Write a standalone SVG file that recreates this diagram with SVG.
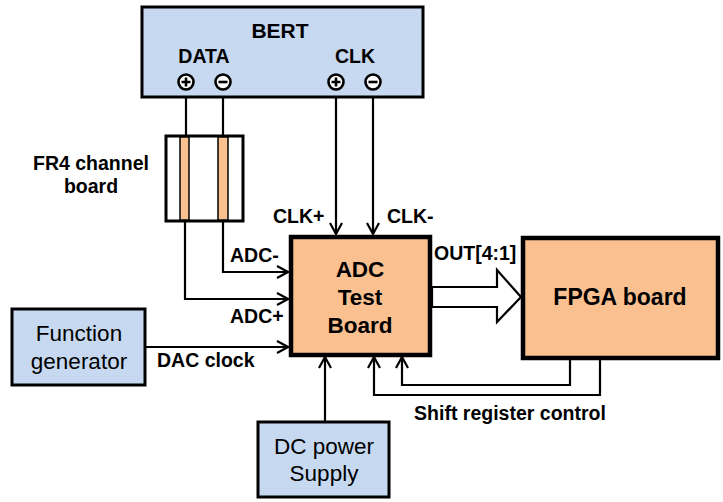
<svg xmlns="http://www.w3.org/2000/svg" width="723" height="502" viewBox="0 0 723 502">
<style>
.blue{fill:#C6D9F0;stroke:#000;stroke-width:3}
.orange{fill:#FAC090;stroke:#000;stroke-width:4.5}
.wire{fill:none;stroke:#000;stroke-width:2.2}
.lbl{font-family:"Liberation Sans",Arial,sans-serif;font-weight:bold;font-size:19.5px;fill:#000}
.big{font-family:"Liberation Sans",Arial,sans-serif;font-weight:bold;font-size:22.5px;fill:#000;text-anchor:middle}
.reg{font-family:"Liberation Sans",Arial,sans-serif;font-size:22.5px;fill:#000;text-anchor:middle}
.term{fill:#fff;stroke:#000;stroke-width:2.6}
</style>
<defs>
<marker id="arr" markerWidth="14" markerHeight="14" refX="12" refY="7" orient="auto" markerUnits="userSpaceOnUse">
<polyline points="1,1 12,7 1,13" fill="none" stroke="#000" stroke-width="2.2"/>
</marker>
</defs>
<rect width="723" height="502" fill="#fff"/>

<g id="connectors">
<path class="wire" d="M186,90 V135"/>
<path class="wire" d="M223,90 V135"/>
<path class="wire" d="M223,221 V272 H288" marker-end="url(#arr)"/>
<path class="wire" d="M185,221 V299 H288" marker-end="url(#arr)"/>
<path class="wire" d="M336,90 V234" marker-end="url(#arr)"/>
<path class="wire" d="M373,90 V234" marker-end="url(#arr)"/>
<path class="wire" d="M145,347 H288" marker-end="url(#arr)"/>
<path class="wire" d="M325,421 V357" marker-end="url(#arr)"/>
<path class="wire" d="M570,358 V385 H402 V357" marker-end="url(#arr)"/>
<path class="wire" d="M600,358 V395 H374 V357" marker-end="url(#arr)"/>
<polygon points="432,287 497,287 497,270 521,297 497,322 497,307 432,307" fill="#fff" stroke="#000" stroke-width="2.2"/>
<text class="lbl" x="230" y="262">ADC-</text>
<text class="lbl" x="230" y="323">ADC+</text>
<text class="lbl" x="157" y="367">DAC clock</text>
<text class="lbl" x="273" y="223">CLK+</text>
<text class="lbl" x="387" y="223">CLK-</text>
<text class="lbl" x="434" y="260">OUT[4:1]</text>
<text class="lbl" x="510" y="420" text-anchor="middle">Shift register control</text>
</g>

<g id="bert">
<rect class="blue" x="142" y="7" width="281" height="90"/>
<text class="big" x="280" y="38" style="font-size:21px">BERT</text>
<text class="lbl" x="204" y="63" text-anchor="middle">DATA</text>
<text class="lbl" x="355" y="63" text-anchor="middle">CLK</text>
<circle class="term" cx="186" cy="82" r="7.5"/>
<path d="M181.5,82 H190.5 M186,77.5 V86.5" stroke="#000" stroke-width="2.6"/>
<circle class="term" cx="223" cy="82" r="7.5"/>
<path d="M218.5,82 H227.5" stroke="#000" stroke-width="2.6"/>
<circle class="term" cx="336" cy="82" r="7.5"/>
<path d="M331.5,82 H340.5 M336,77.5 V86.5" stroke="#000" stroke-width="2.6"/>
<circle class="term" cx="373" cy="82" r="7.5"/>
<path d="M368.5,82 H377.5" stroke="#000" stroke-width="2.6"/>
</g>

<g id="fr4">
<rect x="166" y="136" width="77" height="85" fill="#fff" stroke="#000" stroke-width="3"/>
<rect x="180" y="137" width="9" height="83" fill="#FAC090" stroke="#000" stroke-width="1.5"/>
<rect x="218" y="137" width="10" height="83" fill="#FAC090" stroke="#000" stroke-width="1.5"/>
<text class="lbl" x="91" y="170" text-anchor="middle">FR4 channel</text>
<text class="lbl" x="91" y="193" text-anchor="middle">board</text>
</g>

<g id="adc">
<rect class="orange" x="291" y="237" width="139" height="118"/>
<text class="big" x="360" y="277">ADC</text>
<text class="big" x="360" y="305">Test</text>
<text class="big" x="360" y="333">Board</text>
</g>

<g id="fpga">
<rect class="orange" x="523" y="238" width="195" height="120"/>
<text class="big" x="620" y="305" style="font-size:23px">FPGA board</text>
</g>

<g id="funcgen">
<rect class="blue" x="12" y="309" width="133" height="76"/>
<text class="reg" x="79" y="341">Function</text>
<text class="reg" x="79" y="369">generator</text>
</g>

<g id="dcpower">
<rect class="blue" x="258" y="422" width="131" height="75"/>
<text class="reg" x="324" y="454">DC power</text>
<text class="reg" x="324" y="481">Supply</text>
</g>
</svg>
